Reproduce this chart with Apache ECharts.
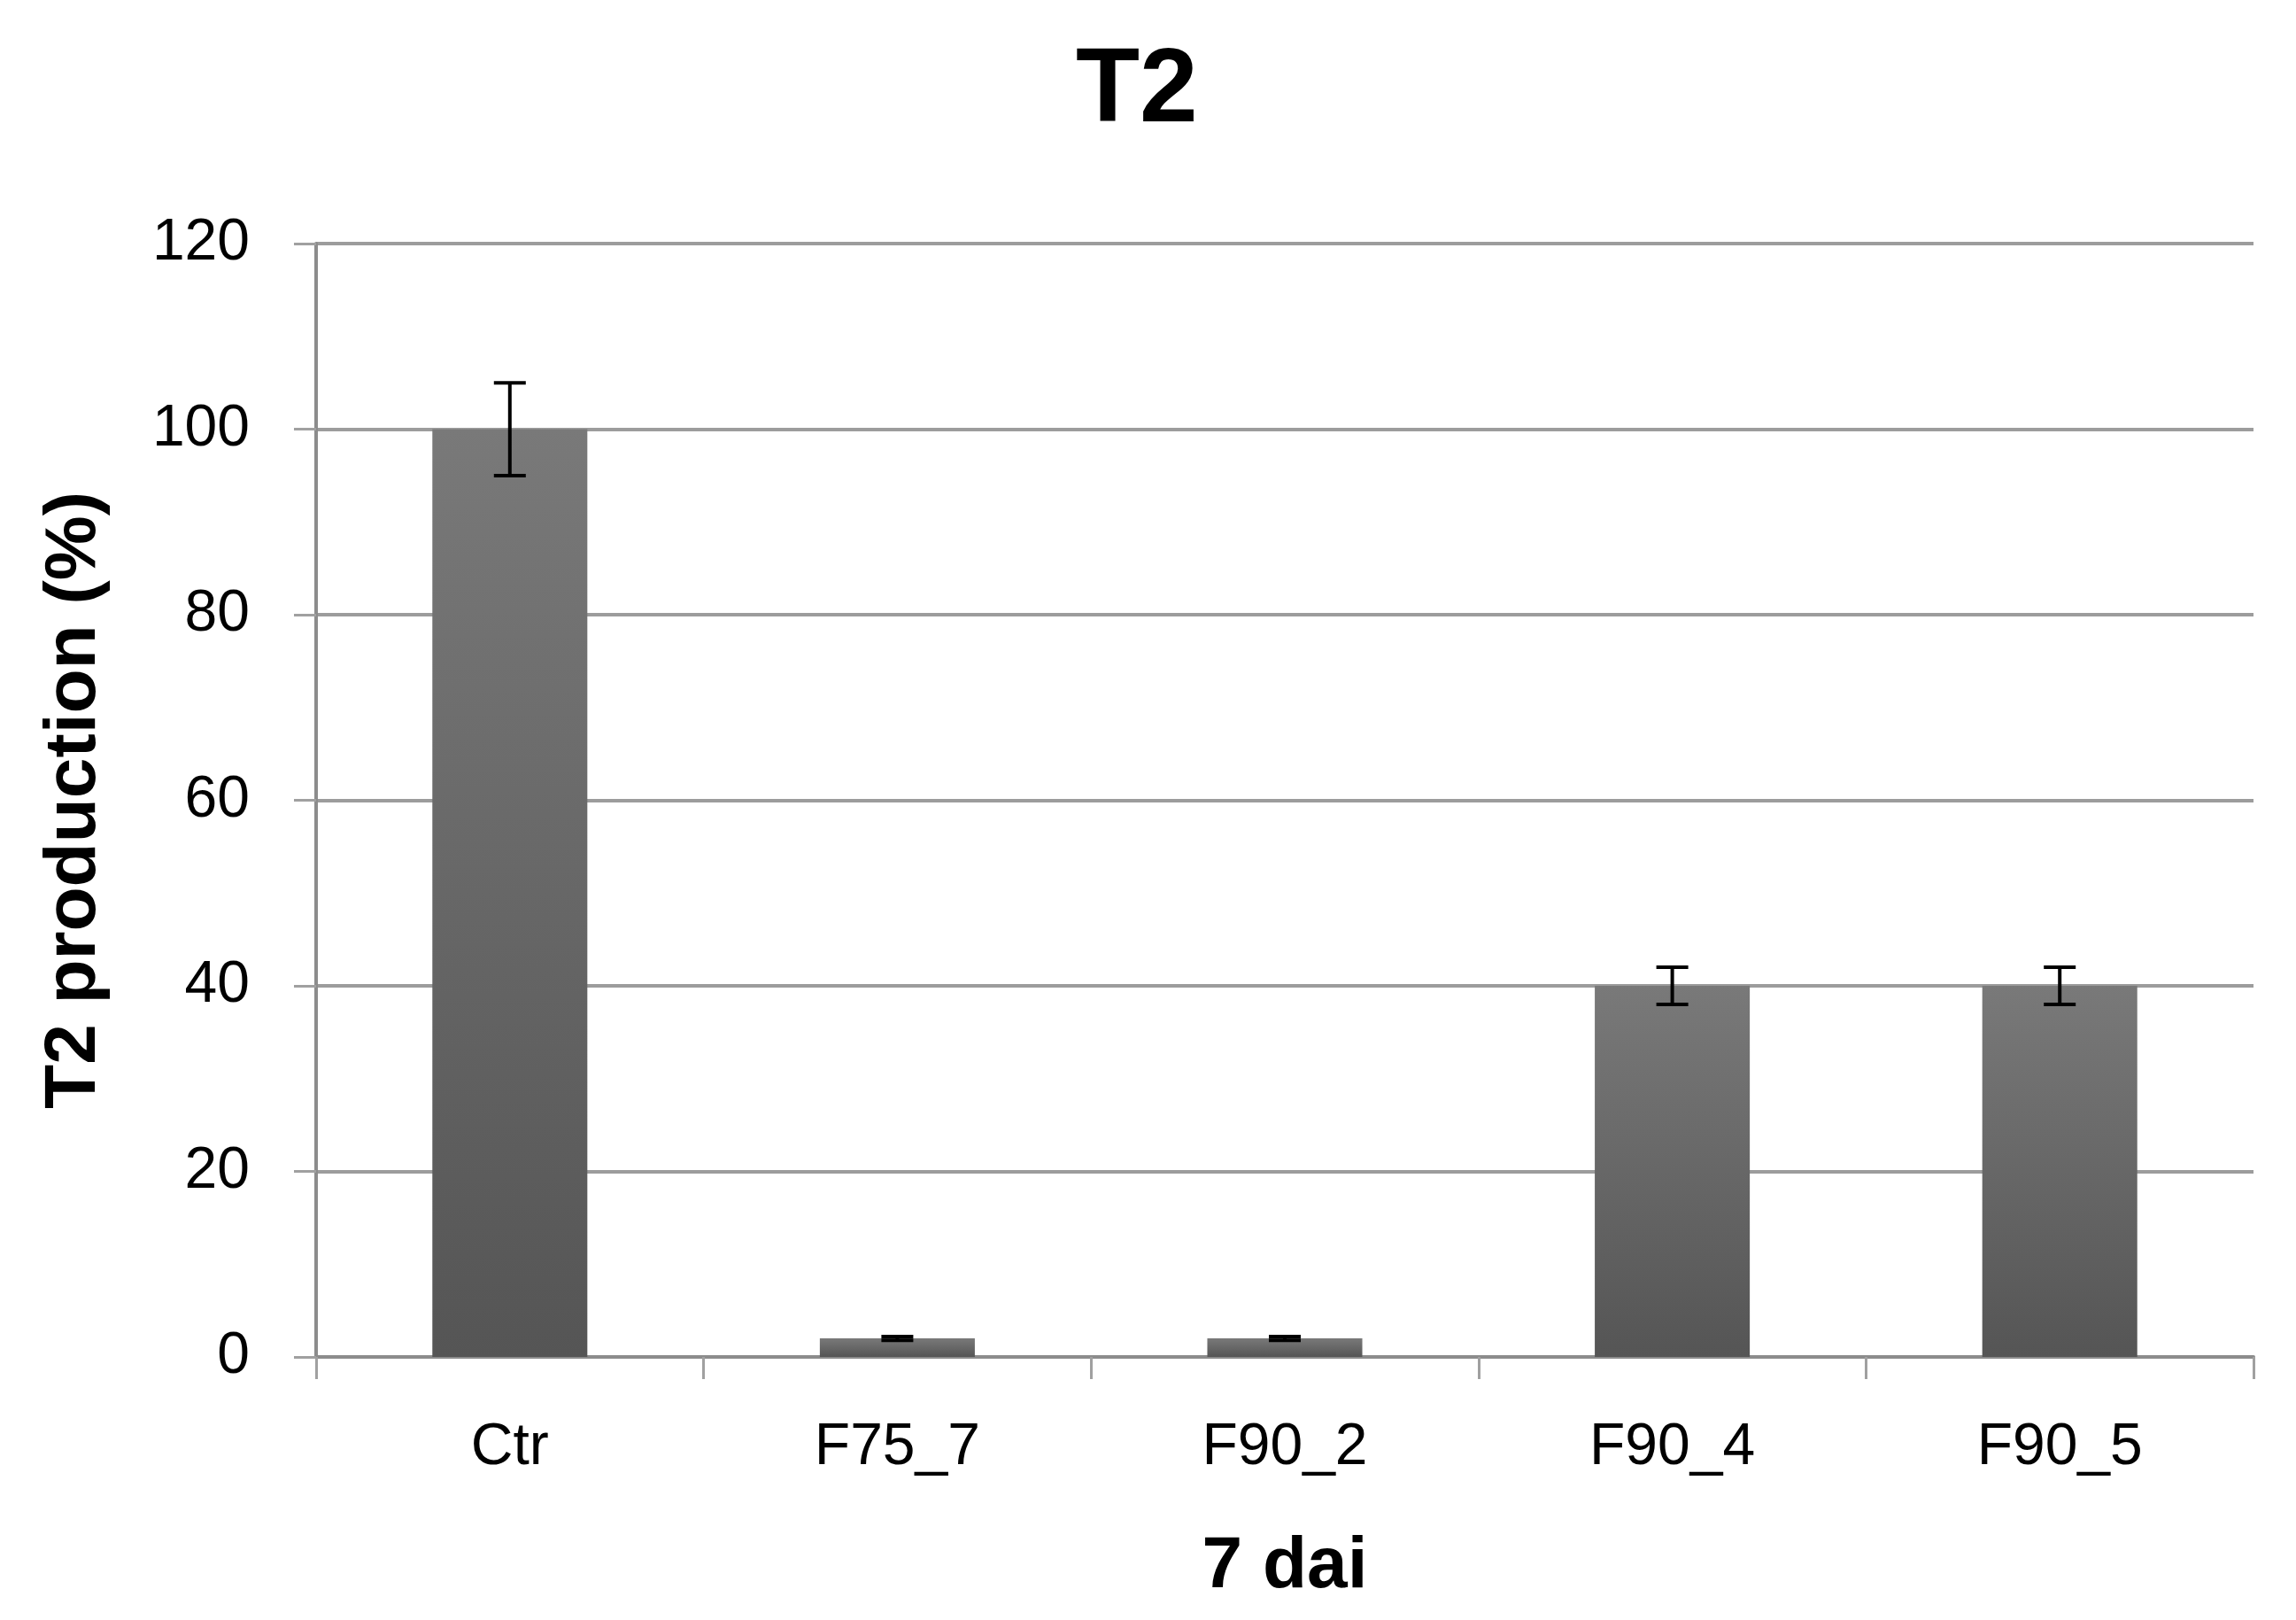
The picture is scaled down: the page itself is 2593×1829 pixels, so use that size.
<!DOCTYPE html>
<html>
<head>
<meta charset="utf-8">
<script src="https://cdn.jsdelivr.net/npm/echarts@6/dist/echarts.min.js"></script>
<style>html,body{margin:0;padding:0;background:#fff;}#c{width:2593px;height:1829px;}</style>
</head>
<body>
<div id="c"></div>
<script>
var categories = ['Ctr', 'F75_7', 'F90_2', 'F90_4', 'F90_5'];
var values = [100, 2, 2, 40, 40];
var errors = [5, 0.2, 0.2, 2, 2];
var yTicks = [0, 20, 40, 60, 80, 100, 120];

var chart = echarts.init(document.getElementById('c'));
var errData = values.map(function (v, i) { return [i, v - errors[i], v + errors[i]]; });
var FONT = '"Liberation Sans", Arial, sans-serif';
chart.setOption({
  backgroundColor: '#ffffff',
  animation: false,
  title: {
    text: 'T2', left: 1210, top: 40,
    textStyle: { fontFamily: FONT, fontSize: 118, fontWeight: 'bold', color: '#000' }
  },
  grid: { left: 357, right: 48, top: 275, bottom: 297, containLabel: false },
  xAxis: {
    type: 'category', data: categories, boundaryGap: true,
    name: '7 dai', nameLocation: 'middle', nameGap: 196,
    nameTextStyle: { fontFamily: FONT, fontSize: 82, fontWeight: 'bold', color: '#000' },
    axisLine: { lineStyle: { color: '#8c8c8c', width: 4 } },
    axisTick: { show: true, length: 25, lineStyle: { color: '#a0a0a0', width: 3 } },
    axisLabel: { fontFamily: FONT, fontSize: 66, color: '#000', margin: 70 }
  },
  yAxis: {
    type: 'value', min: yTicks[0], max: yTicks[yTicks.length - 1], interval: 20,
    name: 'T2 production (%)', nameLocation: 'middle', nameGap: 232, nameRotate: 90,
    nameTextStyle: { fontFamily: FONT, fontSize: 82, fontWeight: 'bold', color: '#000' },
    axisLine: { show: true, lineStyle: { color: '#8c8c8c', width: 4 } },
    axisTick: { show: true, length: 25, lineStyle: { color: '#a0a0a0', width: 3 } },
    axisLabel: { fontFamily: FONT, fontSize: 66, color: '#000', margin: 75 },
    splitLine: { show: true, lineStyle: { color: '#9c9c9c', width: 4 } }
  },
  series: [
    {
      type: 'bar', data: values, barWidth: '40%',
      itemStyle: {
        color: new echarts.graphic.LinearGradient(0, 0, 0, 1, [
          { offset: 0, color: '#797979' }, { offset: 1, color: '#555555' }
        ])
      }
    },
    {
      type: 'custom', data: errData, z: 10,
      renderItem: function (params, api) {
        var x = api.value(0);
        var lo = api.coord([x, api.value(1)]);
        var hi = api.coord([x, api.value(2)]);
        var hw = 18;
        var st = { stroke: '#000', lineWidth: 4 };
        return {
          type: 'group',
          children: [
            { type: 'line', shape: { x1: lo[0], y1: lo[1], x2: hi[0], y2: hi[1] }, style: st },
            { type: 'line', shape: { x1: hi[0] - hw, y1: hi[1], x2: hi[0] + hw, y2: hi[1] }, style: st },
            { type: 'line', shape: { x1: lo[0] - hw, y1: lo[1], x2: lo[0] + hw, y2: lo[1] }, style: st }
          ]
        };
      }
    }
  ]
});
</script>
</body>
</html>
